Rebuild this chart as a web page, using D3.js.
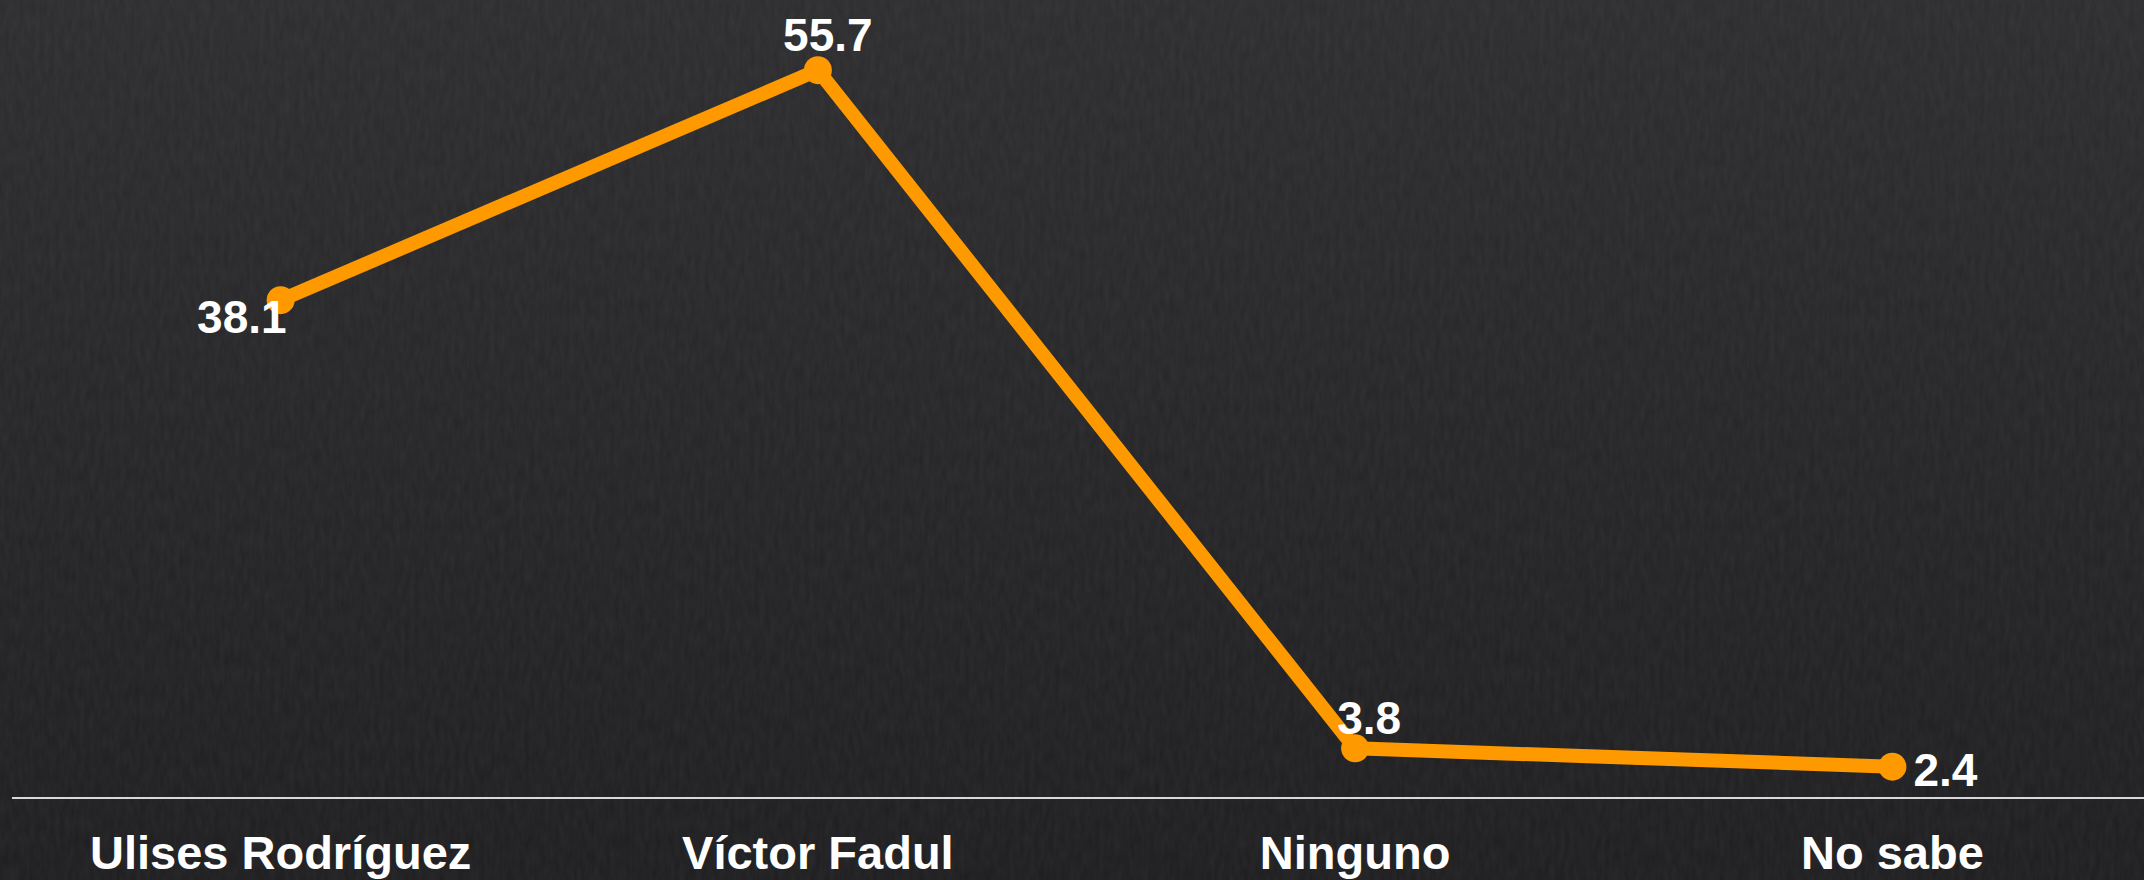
<!DOCTYPE html>
<html>
<head>
<meta charset="utf-8">
<script src="https://cdn.jsdelivr.net/npm/d3@7"></script>
<style>
  html, body { margin: 0; padding: 0; background: #222224; }
  svg { display: block; }
</style>
</head>
<body>
<svg id="chart" width="2144" height="880"></svg>
<script>
var categorias = ["Ulises Rodríguez", "Víctor Fadul", "Ninguno", "No sabe"];
var valores = [38.1, 55.7, 3.8, 2.4];
var etiquetas = ["38.1", "55.7", "3.8", "2.4"];

var svg = d3.select("#chart"),
    width = +svg.attr("width"),
    height = +svg.attr("height");

// fondo oscuro con degradado
var defs = svg.append("defs");
var grad = defs.append("linearGradient")
    .attr("id", "fondo")
    .attr("x1", 0).attr("y1", 0).attr("x2", 0).attr("y2", 1);
grad.append("stop").attr("offset", "0%").attr("stop-color", "#2c2c2e");
grad.append("stop").attr("offset", "100%").attr("stop-color", "#1d1d1f");

var ruido = defs.append("filter").attr("id", "ruido")
    .attr("x", 0).attr("y", 0).attr("width", "100%").attr("height", "100%");
ruido.append("feTurbulence")
    .attr("type", "fractalNoise")
    .attr("baseFrequency", "0.2 0.06")
    .attr("numOctaves", 2)
    .attr("seed", 4);
ruido.append("feColorMatrix")
    .attr("type", "matrix")
    .attr("values", "0 0 0 0 0.5  0 0 0 0 0.5  0 0 0 0 0.5  0 0 0 0.08 0");

svg.append("rect").attr("width", width).attr("height", height).attr("fill", "url(#fondo)");
svg.append("rect").attr("width", width).attr("height", height).attr("filter", "url(#ruido)");

var x = d3.scaleBand()
    .domain(categorias)
    .range([12, 2161]);

var y = d3.scaleLinear()
    .domain([0, 60])
    .range([798, 14]);

var cx = function(d, i) { return x(categorias[i]) + x.bandwidth() / 2; };

// eje horizontal
var eje = svg.append("g")
    .attr("transform", "translate(0," + y(0) + ")")
    .call(d3.axisBottom(x).tickSize(0).tickPadding(37));
eje.select(".domain")
    .attr("d", "M12,0H" + width)
    .attr("stroke", "#d9d9d9")
    .attr("stroke-width", 2);
eje.selectAll("text")
    .attr("fill", "#ffffff")
    .attr("font-family", "'Liberation Sans', Arial, sans-serif")
    .attr("font-weight", "bold")
    .attr("font-size", 47)
    .attr("dy", "0.72em");

var linea = d3.line()
    .x(cx)
    .y(function(d) { return y(d); });

svg.append("path")
    .datum(valores)
    .attr("fill", "none")
    .attr("stroke", "#ff9900")
    .attr("stroke-width", 14)
    .attr("stroke-linejoin", "round")
    .attr("d", linea);

svg.selectAll(".punto")
    .data(valores)
    .enter().append("circle")
    .attr("class", "punto")
    .attr("cx", cx)
    .attr("cy", function(d) { return y(d); })
    .attr("r", 14)
    .attr("fill", "#ff9900");

// posicion de cada etiqueta respecto a su punto
var pos = [
  {anchor: "end", dx: 6, dy: 33},
  {anchor: "middle", dx: 10, dy: -19},
  {anchor: "middle", dx: 14, dy: -14},
  {anchor: "start", dx: 21, dy: 19}
];

svg.selectAll(".valor")
    .data(valores)
    .enter().append("text")
    .attr("class", "valor")
    .attr("x", function(d, i) { return cx(d, i) + pos[i].dx; })
    .attr("y", function(d, i) { return y(d) + pos[i].dy; })
    .attr("text-anchor", function(d, i) { return pos[i].anchor; })
    .attr("fill", "#ffffff")
    .attr("font-family", "'Liberation Sans', Arial, sans-serif")
    .attr("font-weight", "bold")
    .attr("font-size", 46)
    .text(function(d, i) { return etiquetas[i]; });
</script>
</body>
</html>
